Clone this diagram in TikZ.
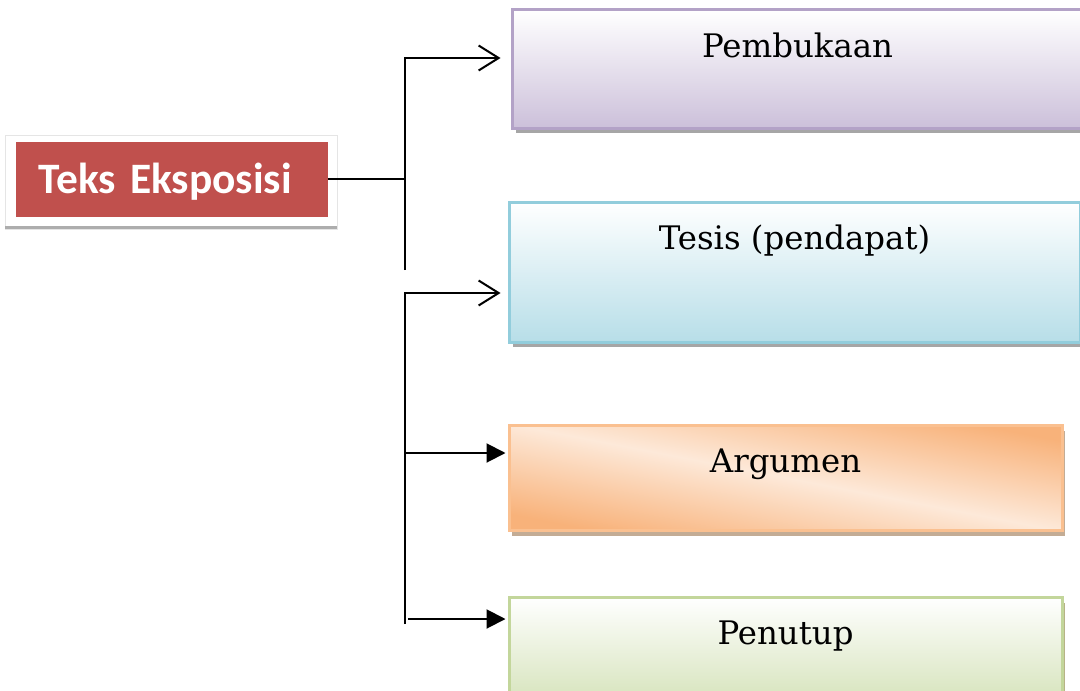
\documentclass[tikz,border=0pt]{standalone}
\usepackage{fontspec}
\setmainfont{DejaVu Serif}
\newfontfamily\headfont{Carlito}
\usetikzlibrary{arrows.meta,shadows}

\definecolor{teksRed}{HTML}{C0504D}
\definecolor{purpleLine}{HTML}{B3A2C7}
\definecolor{purpleFill}{HTML}{CCC0DA}
\definecolor{blueLine}{HTML}{92CDDC}
\definecolor{blueFill}{HTML}{B7DEE8}
\definecolor{orangeLine}{HTML}{FAC090}
\definecolor{orangeFill}{HTML}{F8B27A}
\definecolor{orangeLight}{HTML}{FDE9D9}
\definecolor{greenLine}{HTML}{C3D69B}
\definecolor{greenFill}{HTML}{D7E4BD}

\begin{document}
\begin{tikzpicture}[x=0.5pt,y=-0.5pt,font=\fontsize{16.2}{20}\selectfont,
  partbox/.style={rectangle, line width=1.5pt, inner sep=0pt, minimum width=285.5pt},
  boxtext/.style={anchor=base, yshift=-24.5pt},
  link/.style={line width=1pt},
  openhead/.style={-{Straight Barb[length=10pt,width=12.5pt]}},
  fullhead/.style={-{Triangle[length=9.5pt,width=9.5pt]}}]
\clip (0,0) rectangle (1080,690);

% kotak judul
\draw[black!10] (5,135) rectangle (337,229);
\fill[black!32] (5,226) rectangle (337,229);
\node (teks) [rectangle, fill=teksRed, text=white, inner xsep=11.5pt, inner ysep=0pt,
  text width=133pt, align=left, minimum height=37.5pt, text height=14pt, text depth=0pt,
  font=\headfont\bfseries\fontsize{21.7}{24}\selectfont] at (171.5,179) {Teks Eksposisi};

% bagian-bagian
\node (pembukaan) [partbox, minimum height=59pt, draw=purpleLine, top color=white, bottom color=purpleFill,
  drop shadow={shadow xshift=2pt, shadow yshift=-2.5pt, fill=black!35, opacity=1},
  label={[name=pembukaanText, boxtext]north:Pembukaan}] at (797.5,69) {};
\node (tesis) [partbox, minimum height=70pt, draw=blueLine, top color=white, bottom color=blueFill,
  drop shadow={shadow xshift=2pt, shadow yshift=-2.5pt, fill=black!35, opacity=1},
  label={[name=tesisText, boxtext]north:Tesis (pendapat)}] at (794.5,272) {};
\node (argumen) [partbox, minimum width=276.5pt, minimum height=52.5pt, draw=orangeLine,
  top color=orangeFill, bottom color=orangeFill, middle color=orangeLight, shading angle=-11,
  drop shadow={shadow xshift=1.5pt, shadow yshift=-3pt, fill=brown!55!gray!65, opacity=1},
  label={[name=argumenText, boxtext]north:Argumen}] at (785.5,477.5) {};
\node (penutup) [partbox, minimum width=276.5pt, minimum height=51.5pt, draw=greenLine,
  top color=white, bottom color=greenFill,
  drop shadow={shadow xshift=1.5pt, shadow yshift=-3pt, fill=olive!40!gray!65, opacity=1},
  label={[name=penutupText, boxtext]north:Penutup}] at (785.5,648.5) {};

% garis penghubung
\coordinate (topA) at (405,58);
\coordinate (botA) at (405,270);
\coordinate (topB) at (405,293);
\coordinate (midB) at (405,453);
\coordinate (lowB) at (408,619);
\coordinate (botB) at (405,624);

\draw[link] (teks.east) -- (teks.east -| topA);
\draw[link,openhead,shorten >=5pt] (botA) -- (topA) -- (topA -| pembukaan.west);
\draw[link,openhead,shorten >=3.5pt] (botB) -- (topB) -- (topB -| tesis.west);
\draw[link,fullhead,shorten >=1pt] (midB) -- (midB -| argumen.west);
\draw[link,fullhead,shorten >=1pt] (lowB) -- (lowB -| penutup.west);
\end{tikzpicture}
\end{document}
